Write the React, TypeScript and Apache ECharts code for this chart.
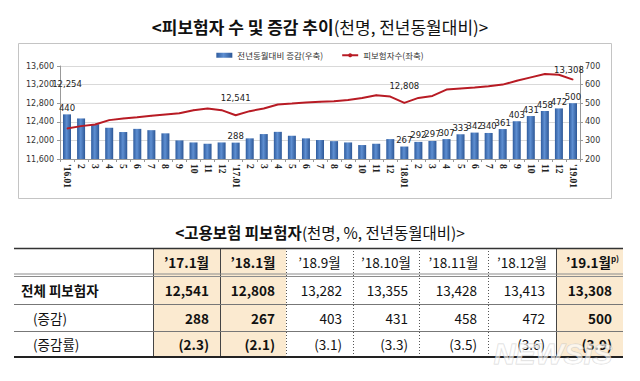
import React, { useEffect, useRef } from "react";
import * as echarts from "echarts";

const categories = [
  "'16.01", "2", "3", "4", "5", "6", "7", "8", "9", "10", "11", "12",
  "'17.01", "2", "3", "4", "5", "6", "7", "8", "9", "10", "11", "12",
  "'18.01", "2", "3", "4", "5", "6", "7", "8", "9", "10", "11", "12",
  "'19.01",
];

// 피보험자수 (좌축, 천명)
const insured = [
  12254, 12307, 12343, 12436, 12472, 12500, 12529, 12558, 12586, 12650, 12686, 12650,
  12541, 12629, 12686, 12772, 12793, 12815, 12829, 12843, 12871, 12914, 12972, 12943,
  12808, 12914, 12957, 13093, 13115, 13136, 13164, 13200, 13282, 13355, 13428, 13413,
  13308,
];

// 전년동월대비 증감 (우축, 천명)
const change = [
  440, 418, 387, 368, 345, 362, 355, 338, 300, 289, 282, 289,
  288, 311, 334, 346, 325, 311, 302, 296, 289, 275, 282, 307,
  267, 292, 297, 307, 333, 342, 340, 361, 403, 431, 458, 472,
  500,
];

const barLabelIdx = [0, 12, 24, 25, 26, 27, 28, 29, 30, 31, 32, 33, 34, 35, 36];
const lineLabelIdx = [0, 12, 24, 36];

const leftMin = 11600;
const leftMax = 13600;
const leftStep = 400;
const rightMin = 200;
const rightMax = 700;
const rightStep = 100;

const barName = "전년동월대비 증감(우축)";
const lineName = "피보험자수(좌축)";

// Table
const tableHeaders = ["’17.1월", "’18.1월", "’18.9월", "’18.10월", "’18.11월", "’18.12월", "’19.1월"];
const tableRowLabels = ["전체 피보험자", "(증감)", "(증감률)"];
const tableTotal = [12541, 12808, 13282, 13355, 13428, 13413, 13308];
const tableChange = [288, 267, 403, 431, 458, 472, 500];
const tableRate = [2.3, 2.1, 3.1, 3.3, 3.5, 3.6, 3.9];
const highlightCols = [0, 1, 6];

const CJK = "'Noto Sans CJK KR', 'Noto Sans', sans-serif";
const fmt = (v: number) => v.toLocaleString("en-US");

function buildTable(): any[] {
  const colX = [14, 153, 220, 286, 353, 419, 488, 556, 623];
  const rowY = [248, 275, 304, 331, 357];
  const els: any[] = [];
  const top = rowY[0];
  const bottom = rowY[rowY.length - 1];
  highlightCols.forEach((c) => {
    els.push({
      type: "rect",
      shape: { x: colX[c + 1], y: top, width: colX[c + 2] - colX[c + 1], height: bottom - top },
      style: { fill: "#FBEAD0" },
      silent: true,
    });
  });
  const solidV = [1, 2, 7];
  const dottedV = [3, 4, 5, 6];
  solidV.forEach((i) =>
    els.push({
      type: "line",
      shape: { x1: colX[i] + 0.5, y1: top, x2: colX[i] + 0.5, y2: bottom },
      style: { stroke: "#444", lineWidth: 1 },
      silent: true,
    })
  );
  dottedV.forEach((i) =>
    els.push({
      type: "line",
      shape: { x1: colX[i] + 0.5, y1: top, x2: colX[i] + 0.5, y2: bottom },
      style: { stroke: "#555", lineWidth: 1, lineDash: [1, 2] },
      silent: true,
    })
  );
  els.push({
    type: "line",
    shape: { x1: colX[0], y1: top + 0.5, x2: colX[8], y2: top + 0.5 },
    style: { stroke: "#333", lineWidth: 1.5 },
    silent: true,
  });
  [274, 276.5].forEach((y) =>
    els.push({
      type: "line",
      shape: { x1: colX[0], y1: y, x2: colX[8], y2: y },
      style: { stroke: "#8C8C8C", lineWidth: 1.2 },
      silent: true,
    })
  );
  [rowY[2], rowY[3]].forEach((y) =>
    els.push({
      type: "line",
      shape: { x1: colX[0], y1: y + 0.5, x2: colX[8], y2: y + 0.5 },
      style: { stroke: "#777", lineWidth: 1 },
      silent: true,
    })
  );
  els.push({
    type: "line",
    shape: { x1: colX[0], y1: bottom, x2: colX[8], y2: bottom },
    style: { stroke: "#222", lineWidth: 2 },
    silent: true,
  });

  tableHeaders.forEach((h, c) => {
    const bold = highlightCols.includes(c);
    const cx = (colX[c + 1] + colX[c + 2]) / 2;
    const isLast = c === tableHeaders.length - 1;
    els.push({
      type: "text",
      x: cx + (isLast ? 3 : 0),
      y: 262,
      style: isLast
        ? {
            text: `{m|${h}}{s|p)}`,
            align: "center",
            verticalAlign: "middle",
            rich: {
              m: { fontSize: 13.5, fontWeight: "bold", fontFamily: CJK, fill: "#111", color: "#111" },
              s: { fontSize: 8, fontWeight: "bold", fontFamily: CJK, fill: "#111", color: "#111", verticalAlign: "top", padding: [0, 0, 8, 0] },
            },
          }
        : {
            text: h,
            align: "center",
            verticalAlign: "middle",
            fontSize: 13.5,
            fontWeight: bold ? "bold" : "normal",
            fontFamily: CJK,
            fill: "#111",
          },
      silent: true,
    });
  });

  const rowCenters = [290, 317.5, 344];
  tableRowLabels.forEach((lab, r) => {
    els.push({
      type: "text",
      x: r === 0 ? 21 : 33,
      y: rowCenters[r],
      style: {
        text: lab,
        align: "left",
        verticalAlign: "middle",
        fontSize: 13.5,
        fontWeight: r === 0 ? "bold" : "normal",
        fontFamily: CJK,
        fill: "#111",
      },
      silent: true,
    });
  });

  const rows = [
    tableTotal.map((v) => fmt(v)),
    tableChange.map((v) => fmt(v)),
    tableRate.map((v) => `(${v.toFixed(1)})`),
  ];
  rows.forEach((vals, r) => {
    vals.forEach((t, c) => {
      const bold = highlightCols.includes(c);
      els.push({
        type: "text",
        x: colX[c + 2] - 11,
        y: rowCenters[r],
        style: {
          text: t,
          align: "right",
          verticalAlign: "middle",
          fontSize: 13.5,
          fontWeight: bold ? "bold" : "normal",
          fontFamily: CJK,
          fill: "#111",
        },
        silent: true,
      });
    });
  });

  els.push({
    type: "text",
    x: 553,
    y: 353,
    style: {
      text: "NEWSIS",
      align: "center",
      verticalAlign: "middle",
      fontSize: 30,
      fontWeight: "bold",
      fontStyle: "italic",
      fontFamily: "'Liberation Sans', sans-serif",
      fill: "rgba(255,255,255,0.6)",
      stroke: "rgba(190,190,190,0.6)",
      lineWidth: 1,
    },
    z: 100,
    silent: true,
  });
  return els;
}

const lineLabelOffsets: Record<number, number[]> = {
  0: [0, -35],
  12: [0, -7],
  24: [0, -7],
  36: [-4, 0],
};

export default function App() {
  const ref = useRef<HTMLDivElement>(null);
  useEffect(() => {
    if (!ref.current) return;
    const chart = echarts.init(ref.current, undefined, { renderer: "svg" });
    const barGrad = new echarts.graphic.LinearGradient(0, 0, 1, 0, [
      { offset: 0, color: "#2F5C9E" },
      { offset: 0.45, color: "#5E8FD2" },
      { offset: 1, color: "#2D5796" },
    ]);
    const option: any = {
      animation: false,
      backgroundColor: "#ffffff",
      textStyle: { fontFamily: CJK },
      title: [
        {
          text: "{b|<피보험자 수 및 증감 추이}{n|(천명, 전년동월대비)>}",
          left: "center",
          top: 13,
          textStyle: {
            rich: {
              b: { fontSize: 17, fontWeight: "bold", color: "#111", fontFamily: CJK },
              n: { fontSize: 17, fontWeight: "normal", color: "#111", fontFamily: CJK },
            },
          },
        },
        {
          text: "{b|<고용보험 피보험자}{n|(천명, %, 전년동월대비)>}",
          left: "center",
          top: 219,
          textStyle: {
            rich: {
              b: { fontSize: 15.5, fontWeight: "bold", color: "#111", fontFamily: CJK },
              n: { fontSize: 15.5, fontWeight: "normal", color: "#111", fontFamily: CJK },
            },
          },
        },
      ],
      legend: {
        top: 46,
        left: "center",
        itemWidth: 16,
        itemHeight: 5,
        itemGap: 18,
        textStyle: { fontSize: 8.5, color: "#333", fontFamily: CJK },
        data: [
          { name: barName, icon: "rect" },
          { name: lineName },
        ],
      },
      grid: { left: 60, right: 60, top: 66, bottom: 222, containLabel: false },
      xAxis: {
        type: "category",
        data: categories,
        boundaryGap: true,
        axisLine: { show: true, lineStyle: { color: "#999", width: 1 } },
        axisTick: { show: true, interval: 0, length: 3, lineStyle: { color: "#999" } },
        axisLabel: {
          interval: 0,
          rotate: -90,
          fontSize: 9.5,
          fontWeight: "bold",
          fontFamily: "'Liberation Serif', 'DejaVu Serif', serif",
          color: "#222",
          margin: 5,
        },
      },
      yAxis: [
        {
          type: "value",
          min: leftMin,
          max: leftMax,
          interval: leftStep,
          position: "left",
          axisLine: { show: true, lineStyle: { color: "#999" } },
          axisTick: { show: true, length: 3, lineStyle: { color: "#999" } },
          splitLine: { show: true, lineStyle: { color: "#D9D9D9", width: 1 } },
          axisLabel: {
            formatter: (v: number) => fmt(v),
            fontSize: 8,
            color: "#333",
            fontFamily: "'DejaVu Sans', sans-serif",
            margin: 6,
          },
        },
        {
          type: "value",
          min: rightMin,
          max: rightMax,
          interval: rightStep,
          position: "right",
          axisLine: { show: true, lineStyle: { color: "#999" } },
          axisTick: { show: true, length: 3, lineStyle: { color: "#999" } },
          splitLine: { show: false },
          axisLabel: {
            fontSize: 8,
            color: "#333",
            fontFamily: "'DejaVu Sans', sans-serif",
            margin: 5,
          },
        },
      ],
      series: [
        {
          name: barName,
          type: "bar",
          yAxisIndex: 1,
          barWidth: 8,
          itemStyle: { color: barGrad },
          data: change.map((v, i) => ({
            value: v,
            label: {
              show: barLabelIdx.includes(i),
              position: "top",
              distance: 2,
              fontSize: 8.5,
              color: "#222",
              fontFamily: "'DejaVu Sans', sans-serif",
            },
          })),
        },
        {
          name: lineName,
          type: "line",
          yAxisIndex: 0,
          symbol: "circle",
          symbolSize: 1,
          showSymbol: true,
          itemStyle: { color: "#B81B24" },
          lineStyle: { color: "#B81B24", width: 2 },
          z: 5,
          data: insured.map((v, i) => ({
            value: v,
            label: {
              show: lineLabelIdx.includes(i),
              position: "top",
              offset: lineLabelOffsets[i] || [0, 0],
              formatter: (p: any) => fmt(p.value),
              fontSize: 8.5,
              color: "#222",
              fontFamily: "'DejaVu Sans', sans-serif",
            },
          })),
        },
      ],
      graphic: [
        {
          type: "rect",
          shape: { x: 18.5, y: 43.5, width: 593, height: 155 },
          style: { fill: "none", stroke: "#C4C4C4", lineWidth: 1 },
          silent: true,
          z: -1,
        },
        ...buildTable(),
      ],
    };
    chart.setOption(option);
    return () => chart.dispose();
  }, []);
  return (
    <div
      ref={ref}
      style={{ position: "absolute", left: 0, top: 0, width: 640, height: 381, background: "#fff" }}
    />
  );
}
